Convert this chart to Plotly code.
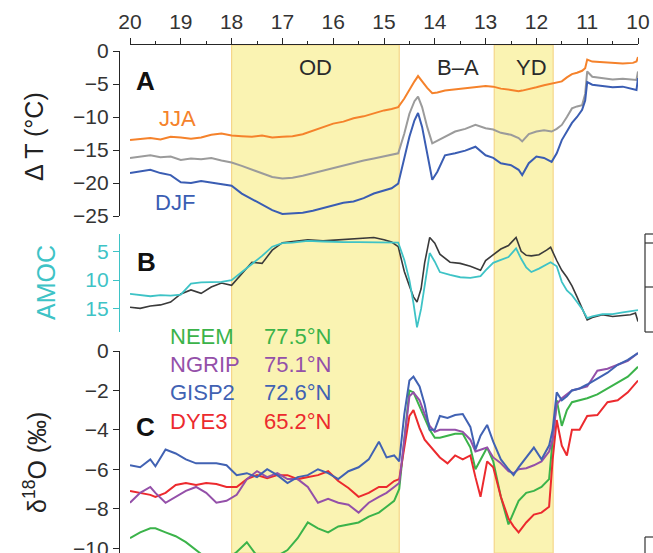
import plotly.graph_objects as go

W, H = 653, 553

# ---------------- data ----------------
ticks_age = [20, 19, 18, 17, 16, 15, 14, 13, 12, 11, 10]
bands = [(18.0, 14.7), (12.83, 11.67)]
band_labels = [("OD", 16.35), ("B\u2013A", 13.55), ("YD", 12.1)]

ageA = [20.0, 19.8, 19.6, 19.4, 19.2, 19.0, 18.8, 18.6, 18.4, 18.2, 18.0, 17.8, 17.6, 17.4, 17.2,
        17.0, 16.8, 16.6, 16.4, 16.2, 16.0, 15.8, 15.6, 15.4, 15.2, 15.0, 14.85, 14.72, 14.6, 14.5,
        14.4, 14.33, 14.25, 14.15, 14.05, 13.95, 13.8, 13.6, 13.4, 13.2, 13.0, 12.85, 12.7, 12.5,
        12.35, 12.28, 12.15, 12.0, 11.85, 11.7, 11.6, 11.5, 11.4, 11.3, 11.2, 11.1, 11.04, 11.0,
        10.9, 10.7, 10.5, 10.3, 10.1, 10.03, 10.0]
jja = [-13.5, -13.4, -13.2, -13.4, -13.0, -13.1, -13.3, -13.1, -12.7, -12.5, -12.8, -12.9, -13.0,
       -12.8, -13.1, -13.0, -12.9, -12.6, -12.1, -11.6, -11.0, -10.7, -10.2, -9.9, -9.4, -9.0,
       -8.8, -8.5, -7.2, -5.8, -4.6, -3.8, -4.6, -5.6, -6.4, -6.3, -6.0, -5.8, -5.6, -5.4, -5.3,
       -5.4, -5.7, -5.9, -6.1, -6.0, -5.8, -5.5, -5.2, -4.9, -4.8, -4.6, -4.0, -3.5, -3.3, -3.0,
       -2.6, -1.3, -1.6, -1.7, -1.7, -1.9, -1.8, -1.6, -0.9]
annual = [-16.2, -16.0, -15.8, -16.1, -16.0, -16.5, -16.3, -16.4, -16.2, -16.6, -16.9, -17.4, -18.0,
          -18.6, -19.1, -19.3, -19.2, -18.9, -18.5, -18.1, -17.7, -17.4, -17.0, -16.6, -16.3, -16.0,
          -15.8, -15.5, -12.5, -9.5, -7.6, -6.9, -8.5, -11.5, -14.0, -13.6, -13.0, -12.2, -11.8,
          -11.2, -11.7, -11.9, -12.4, -12.7, -13.2, -13.7, -12.6, -12.2, -12.0, -12.2, -11.8, -11.2,
          -10.0, -8.7, -8.4, -8.2, -6.5, -3.1, -3.9, -4.1, -4.3, -4.2, -4.4, -4.4, -3.1]
djf = [-18.5, -18.2, -18.0, -18.5, -18.8, -19.9, -20.0, -19.7, -19.9, -20.1, -20.4, -21.6, -22.4,
       -23.3, -24.1, -24.7, -24.6, -24.5, -24.2, -23.8, -23.3, -23.0, -22.8, -22.3, -21.6, -21.1,
       -20.8, -20.1, -16.0, -13.0, -10.5, -9.4, -11.5, -15.5, -19.5, -18.3, -15.8, -15.5, -15.1,
       -14.5, -15.8, -16.2, -17.0, -17.3, -18.0, -18.8, -17.0, -16.0, -16.2, -16.8, -15.5, -13.5,
       -12.2, -10.9, -10.0, -8.9, -7.5, -4.7, -5.1, -5.3, -5.5, -5.4, -5.8, -5.9, -4.1]

ageB = [20.0, 19.8, 19.6, 19.4, 19.2, 19.0, 18.8, 18.6, 18.4, 18.2, 18.0, 17.8, 17.6, 17.4, 17.2,
        17.0, 16.8, 16.5, 16.2, 16.0, 15.8, 15.5, 15.2, 15.0, 14.85, 14.72, 14.6, 14.5, 14.42,
        14.35, 14.27, 14.2, 14.1, 14.0, 13.9, 13.7, 13.5, 13.3, 13.1, 13.0, 12.85, 12.7, 12.55,
        12.4, 12.3, 12.2, 12.1, 11.95, 11.8, 11.72, 11.6, 11.5, 11.4, 11.3, 11.2, 11.1, 11.0,
        10.9, 10.7, 10.5, 10.3, 10.15, 10.05, 10.0]
amoc_model = [12.4, 12.6, 12.8, 12.6, 12.7, 12.5, 10.6, 10.4, 10.3, 10.3, 10.0, 8.6, 7.2, 5.8, 4.2,
              3.6, 3.5, 3.2, 3.3, 3.4, 3.4, 3.4, 3.4, 3.5, 3.5, 3.5, 6.5, 10.0, 14.0, 18.2, 15.0,
              11.2, 5.3, 6.8, 8.6, 9.1, 9.5, 9.6, 9.3, 8.3, 7.0, 6.5, 6.0, 4.5, 6.3, 7.8, 8.6, 8.0,
              7.2, 6.9, 7.6, 10.3, 11.8, 12.6, 13.8, 15.0, 16.6, 16.3, 15.9, 15.9, 15.6, 15.4,
              15.3, 15.2]
amoc_proxy = [14.7, 14.9, 14.5, 14.3, 13.8, 12.4, 11.7, 12.3, 11.2, 10.5, 10.9, 8.8, 6.9, 7.1, 4.8,
              3.5, 3.3, 3.0, 3.2, 3.1, 3.0, 2.8, 2.6, 3.0, 3.4, 4.2, 8.5, 11.0, 12.9, 13.8, 11.5,
              7.0, 2.6, 3.6, 5.5, 6.9, 7.1, 7.6, 8.3, 6.6, 5.6, 4.6, 4.0, 2.6, 5.0, 5.7, 5.8, 5.6,
              4.8, 4.3, 6.6, 8.3, 9.5, 11.0, 12.9, 14.8, 16.9, 16.5, 16.0, 16.3, 16.1, 16.0, 15.7,
              17.2]

ageC = [20.0, 19.8, 19.6, 19.5, 19.3, 19.1, 18.9, 18.7, 18.5, 18.3, 18.1, 17.9, 17.7, 17.5, 17.3,
        17.1, 16.9, 16.7, 16.5, 16.3, 16.1, 15.9, 15.7, 15.5, 15.3, 15.1, 14.95, 14.8, 14.7, 14.6,
        14.5, 14.42, 14.3, 14.2, 14.1, 14.0, 13.9, 13.75, 13.6, 13.45, 13.3, 13.2, 13.1, 12.97,
        12.85, 12.7, 12.55, 12.45, 12.35, 12.2, 12.05, 11.9, 11.75, 11.68, 11.6, 11.5, 11.4, 11.3,
        11.15, 11.0, 10.8, 10.6, 10.4, 10.2, 10.0]
neem = [-9.5, -9.2, -9.0, -9.0, -9.2, -9.4, -9.7, -10.1, -10.5, -10.7, -10.6, -10.2, -9.7, -10.4,
        -10.5, -10.4, -10.1, -9.5, -8.7, -9.0, -9.2, -8.9, -8.8, -8.7, -8.4, -8.2, -7.9, -7.6, -7.0,
        -4.5, -2.0, -2.1, -2.8, -3.4, -4.0, -4.4, -4.4, -4.3, -4.2, -4.2, -4.9, -6.0, -5.5, -4.9,
        -5.6, -7.4, -8.8, -8.2, -7.6, -7.2, -7.1, -6.9, -6.5, -4.5, -2.5, -3.8, -3.0, -2.6, -2.5,
        -2.4, -2.2, -1.9, -1.6, -1.3, -0.8]
ngrip = [-7.7, -7.2, -6.9, -7.2, -7.7, -7.4, -7.1, -6.9, -7.2, -7.7, -7.6, -7.3, -6.5, -6.1, -6.4,
         -6.2, -6.5, -6.5, -6.9, -7.7, -7.5, -7.7, -7.8, -8.2, -7.7, -7.4, -7.2, -6.9, -6.7, -4.5,
         -2.3, -2.1, -2.5, -3.2, -3.8, -4.1, -4.0, -4.0, -4.0, -4.1, -4.5, -5.1, -5.0, -4.9, -5.4,
         -5.7, -6.1, -6.2, -6.0, -5.95, -5.8, -5.6, -5.1, -4.5, -2.7, -2.4, -2.2, -2.0, -1.9, -1.8,
         -1.0, -0.9, -0.7, -0.5, -0.1]
gisp2 = [-5.8, -5.9, -5.5, -5.85, -5.0, -5.2, -5.5, -5.7, -5.7, -5.7, -5.8, -6.3, -6.2, -6.4, -6.0,
         -6.3, -6.7, -6.4, -6.3, -6.0, -6.2, -6.5, -6.1, -5.9, -5.5, -4.6, -5.4, -5.3, -5.6, -3.2,
         -1.5, -1.3, -1.8, -2.7, -4.0, -4.0, -3.3, -3.4, -3.25, -3.2, -3.85, -5.0, -4.3, -3.75,
         -4.6, -5.5, -6.0, -6.3, -5.9, -5.4, -4.9, -5.5, -4.8, -4.0, -2.1, -2.5, -2.3, -2.0, -1.9,
         -1.7, -1.4, -1.1, -0.7, -0.45, -0.1]
dye3 = [-7.1, -7.2, -7.3, -7.4, -7.2, -6.8, -6.7, -6.8, -6.7, -6.75, -6.9, -6.9, -6.5, -6.3, -6.45,
        -6.3, -6.3, -6.5, -6.4, -6.3, -6.1, -6.6, -6.95, -7.4, -7.2, -6.9, -6.9, -6.6, -6.5, -4.8,
        -3.3, -3.0, -3.9, -4.5, -4.8, -5.1, -5.4, -5.7, -5.3, -5.5, -5.3, -6.4, -7.4, -5.6, -5.9,
        -7.4, -8.5, -8.9, -9.2, -8.7, -8.3, -8.2, -7.9, -5.5, -3.5, -4.8, -5.3, -4.0, -4.0, -3.3,
        -3.25, -2.6, -2.5, -2.1, -1.5]

cores = ["NEEM", "NGRIP", "GISP2", "DYE3"]
core_lat = ["77.5\u00b0N", "75.1\u00b0N", "72.6\u00b0N", "65.2\u00b0N"]

# ---------------- styling ----------------
FONT = "Liberation Sans, Arial, sans-serif"
C_JJA, C_ANN, C_DJF = "#F5822B", "#9B9B9B", "#3A5DB3"
C_CYAN, C_BLK = "#3EC3C6", "#3A3A3A"
C_NEEM, C_NGRIP, C_GISP2, C_DYE3 = "#3BB34A", "#9450A9", "#4162B3", "#EC2A2E"
core_colors = [C_NEEM, C_NGRIP, C_GISP2, C_DYE3]
AX = "#262626"


def px(x):
    return x / W


def py(y):
    return 1 - y / H


fig = go.Figure()


def line(x, y, color, yaxis, w=2.0):
    fig.add_trace(go.Scatter(x=x, y=y, mode="lines", yaxis=yaxis, xaxis="x",
                             line=dict(color=color, width=w), showlegend=False,
                             hoverinfo="skip"))


line(ageA, jja, C_JJA, "y")
line(ageA, annual, C_ANN, "y")
line(ageA, djf, C_DJF, "y")
line(ageB, amoc_proxy, C_BLK, "y2", 1.6)
line(ageB, amoc_model, C_CYAN, "y2", 1.8)
line(ageC, neem, C_NEEM, "y3")
line(ageC, dye3, C_DYE3, "y3")
line(ageC, ngrip, C_NGRIP, "y3")
line(ageC, gisp2, C_GISP2, "y3")

shapes = []
for a0, a1 in bands:
    shapes.append(dict(type="rect", xref="x", yref="paper", x0=a0, x1=a1, y0=0, y1=py(45),
                       fillcolor="#FAF3B2", line=dict(color="#F5D68A", width=1.2), layer="below"))

# cropped right-hand axis fragments
rc = dict(color="#333333", width=1.2)
shapes.append(dict(type="line", xref="paper", yref="paper", x0=px(645), x1=px(645), y0=py(234), y1=py(332), line=rc))
for yy in (234, 243, 287, 332):
    shapes.append(dict(type="line", xref="paper", yref="paper", x0=px(645), x1=px(653), y0=py(yy), y1=py(yy), line=rc))
shapes.append(dict(type="line", xref="paper", yref="paper", x0=px(645), x1=px(645), y0=py(537), y1=py(553), line=rc))
shapes.append(dict(type="line", xref="paper", yref="paper", x0=px(645), x1=px(653), y0=py(537), y1=py(537), line=rc))

ann = []


def text(x, y, s, size=22, color="#222", bold=False, angle=0, xanchor="center", family=FONT):
    ann.append(dict(x=px(x), y=py(y), xref="paper", yref="paper", text=(f"<b>{s}</b>" if bold else s),
                    showarrow=False, font=dict(family=family, size=size, color=color),
                    textangle=angle, xanchor=xanchor, yanchor="middle"))


for lab, a in band_labels:
    ann.append(dict(x=a, y=py(67), xref="x", yref="paper", text=lab, showarrow=False,
                    font=dict(family=FONT, size=22, color="#2a2a2a"), yanchor="middle"))

NARROW = "Liberation Sans Narrow, Arial Narrow, Liberation Sans, Arial"
text(145, 81, "A", 26, "#111", bold=True, family=NARROW)
text(146, 262, "B", 26, "#111", bold=True, family=NARROW)
text(145, 427, "C", 26, "#111", bold=True, family=NARROW)

text(178, 118, "JJA", 22, C_JJA)
text(175, 203, "DJF", 22, C_DJF)

rows = [336, 364, 392, 421]
for name, lat, col, yy in zip(cores, core_lat, core_colors, rows):
    text(168, yy, name, 22, col, xanchor="left")
    text(262, yy, lat, 22, col, xanchor="left")

text(34, 137, "\u0394 T (\u00b0C)", 25, "#222", angle=-90)
text(46, 283, "AMOC", 25, C_CYAN, angle=-90)
text(35, 463, "\u03b4<sup>18</sup>O (\u2030)", 25, "#222", angle=-90)


def minus(v):
    return str(v).replace("-", "\u2212")


def yax(dom, rng, vals, color=AX, hide=()):
    return dict(domain=dom, range=rng, anchor="free", position=px(119), showline=True,
                linecolor=color, linewidth=1.3, ticks="outside", ticklen=6, tickwidth=1.3,
                tickcolor=color, tickvals=vals,
                ticktext=[("" if v in hide else minus(v)) for v in vals],
                tickfont=dict(family=FONT, size=21, color=color if color != AX else "#333"),
                showgrid=False, zeroline=False, automargin=False)


# bottom tick label of panel C is cut by the picture edge: draw it as text so it shows partially
c_ticks = [0, -2, -4, -6, -8, -10]
ann.append(dict(x=px(111), y=c_ticks[-1], xref="paper", yref="y3", text=minus(c_ticks[-1]),
                showarrow=False, xanchor="right", yanchor="middle",
                font=dict(family=FONT, size=21, color="#333")))

fig.update_layout(
    width=W, height=H, margin=dict(l=0, r=0, t=0, b=0, pad=0, autoexpand=False),
    paper_bgcolor="white", plot_bgcolor="rgba(0,0,0,0)",
    xaxis=dict(domain=[px(130), px(638)], range=[20, 10], anchor="free", position=py(44),
               side="top", showline=True, linecolor=AX, linewidth=1.3, ticks="outside",
               ticklen=6, tickwidth=1.3, tickcolor=AX, tickvals=ticks_age,
               tickfont=dict(family=FONT, size=21, color="#333"),
               minor=dict(ticks="outside", ticklen=3, tickwidth=1.2, tickcolor=AX, dtick=0.5,
                          tick0=10, showgrid=False),
               showgrid=False, zeroline=False, automargin=False),
    yaxis=yax([py(216), py(51)], [-25, 0], [0, -5, -10, -15, -20, -25]),
    yaxis2=yax([py(332), py(234)], [19, 2], [5, 10, 15], C_CYAN),
    yaxis3=yax([0, py(351)], [-10.25, 0], c_ticks, hide=(-10,)),
    shapes=shapes, annotations=ann, showlegend=False,
)

fig.write_html("out.html")
